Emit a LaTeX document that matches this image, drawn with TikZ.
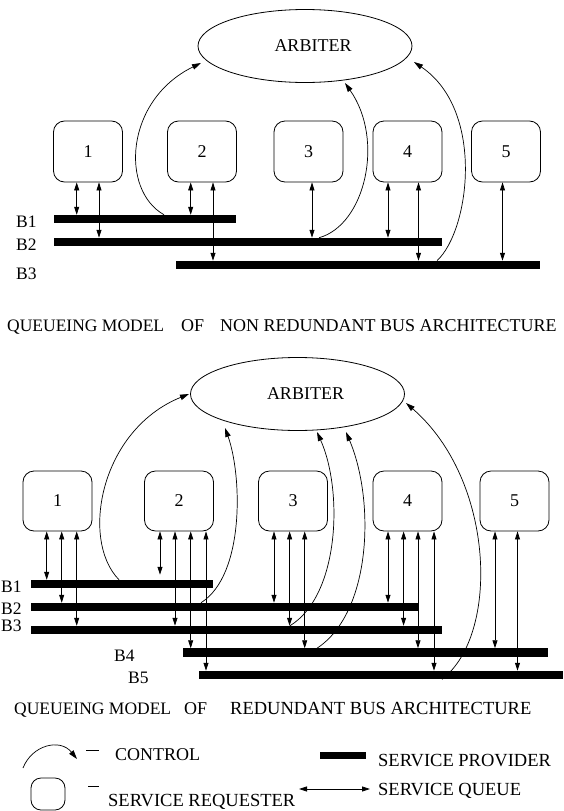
\documentclass[tikz,border=0pt]{standalone}
\usepackage{fontspec}
\setmainfont{Liberation Serif}
\usetikzlibrary{shapes.geometric,arrows.meta}
\begin{document}
\begin{tikzpicture}[x=1pt,y=-1pt,
  font=\fontsize{18}{21}\selectfont,
  req/.style={draw,rounded corners=11pt,minimum width=69pt,minimum height=61pt,inner sep=0pt,line width=0.8pt},
  bus/.style={fill=black,inner sep=0pt,outer sep=0pt,minimum height=8.5pt},
  arb/.style={draw,ellipse,minimum width=214pt,minimum height=73pt,inner sep=0pt,line width=0.8pt},
  sq/.style={{Triangle[length=8pt,width=5pt]}-{Triangle[length=8pt,width=5pt]},line width=0.8pt},
  ctl/.style={-{Triangle[length=9pt,width=5.5pt]},line width=0.7pt},
  lbl/.style={inner sep=0pt,anchor=base west},
  buslbl/.style={lbl,font=\fontsize{17.5}{20}\selectfont},
  qm/.style={lbl,font=\fontsize{17.5}{20}\selectfont}
]
\useasboundingbox (0,0) rectangle (564,811);

% ---------- non redundant bus architecture ----------
\node[arb] (arbT) at (305,46) {\hspace*{16pt}ARBITER};

\foreach \n/\x in {1/88,2/202,3/308.5,4/407.5,5/506}
  \node[req] (t\n) at (\x,151.5) {\n};

\node[bus,minimum width=182pt] (tB1) at (145,219) {};
\node[bus,minimum width=388pt] (tB2) at (248,242) {};
\node[bus,minimum width=364pt] (tB3) at (358,265) {};

\node[buslbl] (tL1) at (16,227) {B1};
\node[buslbl] (tL2) at (16,250) {B2};
\node[buslbl] (tL3) at (16,279) {B3};

% service queues
\draw[sq] (76.7,0 |- t1.south) -- (76.7,0 |- tB1.north);
\draw[sq] (99,0 |- t1.south) -- (99,0 |- tB2.north);
\draw[sq] (190.7,0 |- t2.south) -- (190.7,0 |- tB1.north);
\draw[sq] (213,0 |- t2.south) -- (213,0 |- tB3.north);
\draw[sq] (312,0 |- t3.south) -- (312,0 |- tB2.north);
\draw[sq] (388,0 |- t4.south) -- (388,0 |- tB2.north);
\draw[sq] (418.5,0 |- t4.south) -- (418.5,0 |- tB3.north);
\draw[sq] (502.5,0 |- t5.south) -- (502.5,0 |- tB3.north);

% control
\draw[ctl] (164,0 |- tB1.north) .. controls (120,190) and (125,100) .. ([shift={(-104,17)}]arbT.center);
\draw[ctl] (319,0 |- tB2.north) .. controls (365,225) and (385,140) .. ([shift={(40,37)}]arbT.center);
\draw[ctl] (437,0 |- tB3.north) .. controls (470,230) and (485,110) .. ([shift={(109,16)}]arbT.center);

\node[qm] (ttl1a) at (7,331) {QUEUEING MODEL};
\node[lbl] (ttl1b) at (181,331) {OF};
\node[lbl] (ttl1c) at (220,331) {NON REDUNDANT BUS ARCHITECTURE};

% ---------- redundant bus architecture ----------
\node[arb] (arbB) at (297.5,394) {\hspace*{16pt}ARBITER};

\foreach \n/\x in {1/57.5,2/179,3/293,4/407.5,5/514.5}
  \node[req,minimum height=60pt] (b\n) at (\x,501) {\n};

\node[bus,minimum width=182pt] (bB1) at (122,584) {};
\node[bus,minimum width=387pt] (bB2) at (224.5,607) {};
\node[bus,minimum width=411pt] (bB3) at (236.5,630) {};
\node[bus,minimum width=365pt] (bB4) at (365.5,652.5) {};
\node[bus,minimum width=364pt] (bB5) at (381,675) {};

\node[buslbl] (bL1) at (1,592) {B1};
\node[buslbl] (bL2) at (1,614.5) {B2};
\node[buslbl] (bL3) at (1,631.5) {B3};
\node[buslbl] (bL4) at (114,661) {B4};
\node[buslbl] (bL5) at (128,683) {B5};

% service queues
\draw[sq] (46.7,0 |- b1.south) -- (46.7,0 |- bB1.north);
\draw[sq] (61.7,0 |- b1.south) -- (61.7,0 |- bB2.north);
\draw[sq] (76.7,0 |- b1.south) -- (76.7,0 |- bB3.north);
\draw[sq,shorten >=5pt] (160,0 |- b2.south) -- (160,0 |- bB1.north);
\draw[sq] (175,0 |- b2.south) -- (175,0 |- bB3.north);
\draw[sq] (190.7,0 |- b2.south) -- (190.7,0 |- bB4.north);
\draw[sq] (206,0 |- b2.south) -- (206,0 |- bB5.north);
\draw[sq] (274,0 |- b3.south) -- (274,0 |- bB2.north);
\draw[sq] (289.6,0 |- b3.south) -- (289.6,0 |- bB3.north);
\draw[sq] (304.7,0 |- b3.south) -- (304.7,0 |- bB4.north);
\draw[sq] (388,0 |- b4.south) -- (388,0 |- bB2.north);
\draw[sq] (403.6,0 |- b4.south) -- (403.6,0 |- bB3.north);
\draw[sq] (418,0 |- b4.south) -- (418,0 |- bB4.north);
\draw[sq] (434,0 |- b4.south) -- (434,0 |- bB5.north);
\draw[sq] (495,0 |- b5.south) -- (495,0 |- bB4.north);
\draw[sq] (517.5,0 |- b5.south) -- (517.5,0 |- bB5.north);

% control
\draw[ctl] (119,0 |- bB1.north) .. controls (80,540) and (100,430) .. ([shift={(-108.5,0)}]arbB.center);
\draw[ctl] (201,0 |- bB2.north) .. controls (245,575) and (242,475) .. ([shift={(-72.5,34)}]arbB.center);
\draw[ctl] (290,0 |- bB3.north) .. controls (340,595) and (343,490) .. ([shift={(19.5,38)}]arbB.center);
\draw[ctl] (317,0 |- bB4.north) .. controls (372,612) and (375,500) .. ([shift={(48.5,38)}]arbB.center);
\draw[ctl] (442,0 |- bB5.south) .. controls (500,635) and (495,480) .. ([shift={(108.5,9)}]arbB.center);

\node[qm] (ttl2a) at (14,714) {QUEUEING MODEL};
\node[lbl] (ttl2b) at (184,714) {OF};
\node[lbl,font=\fontsize{18.5}{21}\selectfont] (ttl2c) at (230,714) {REDUNDANT BUS ARCHITECTURE};

% ---------- legend ----------
\coordinate (lc0) at (23,768);
\coordinate (lc1) at (77,759);
\draw[ctl] (lc0) .. controls (32,745) and (60,738) .. (lc1);
\draw[line width=0.7pt] (86,750) -- (99,750);
\node[lbl] (lgCtl) at (115,760) {CONTROL};

\node[req,minimum width=34pt,minimum height=32pt,rounded corners=10pt] (lgReq) at (48,794) {};
\draw[line width=0.7pt] (88,786) -- (99,786);
\node[lbl,font=\fontsize{18.5}{21}\selectfont] (lgReqT) at (108,806) {SERVICE REQUESTER};

\node[bus,minimum width=46pt,minimum height=7pt] (lgBus) at (343,755) {};
\node[lbl,font=\fontsize{18.5}{21}\selectfont] (lgBusT) at (378,766) {SERVICE PROVIDER};

\coordinate (lq0) at (299,789);
\coordinate (lq1) at (370,789);
\draw[sq] (lq0) -- (lq1);
\node[lbl,font=\fontsize{18.5}{21}\selectfont] (lgSqT) at (378,795) {SERVICE QUEUE};
\end{tikzpicture}
\end{document}
